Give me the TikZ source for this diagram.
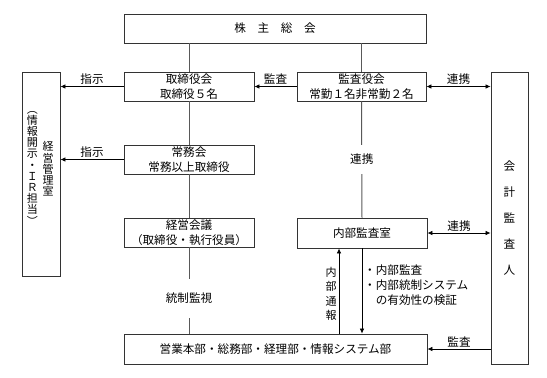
\documentclass[tikz,border=0pt]{standalone}
\usepackage{fontspec}
\newfontfamily\jp{Noto Sans CJK JP}
\usetikzlibrary{arrows.meta,positioning}
\newcommand{\tightlines}{\lineskiplimit=-20pt\relax}
\tikzset{
  box/.style={draw=black!80, line width=0.9pt, rectangle, align=center, inner sep=0pt, minimum height=29pt, fill=white},
  ln/.style={draw=black!65, line width=1pt},
  arr/.style={-{Latex[length=5pt,width=4.5pt]}, line width=0.7pt},
  darr/.style={{Latex[length=5pt,width=4.5pt]}-{Latex[length=5pt,width=4.5pt]}, line width=0.7pt},
  lbl/.style={inner sep=1.5pt, align=center},
  gap/.style={fill=white, inner xsep=2pt},
  vtxt/.style={inner sep=0pt, align=center, font=\jp\fontsize{11}{#1}\selectfont\tightlines},
}
\begin{document}
\begin{tikzpicture}[x=1pt, y=-1pt, font=\jp\fontsize{11.6}{15}\selectfont]
\useasboundingbox (0,0) rectangle (547,378);
% boxes
\node[box, minimum width=302pt] (agm) at (275,28.5) {株　主　総　会};
\node[box, minimum width=130pt] (board) at (189,86.5) {取締役会\\取締役５名};
\node[box, minimum width=129pt] (kansa) at (361.5,86.5) {監査役会\\常勤１名非常勤２名};
\node[box, minimum width=130pt] (jomu) at (189,159.5) {常務会\\常務以上取締役};
\node[box, minimum width=130pt] (kaigi) at (189,232.5) {経営会議\\（取締役・執行役員）};
\node[box, minimum width=130pt, minimum height=30pt] (naibu) at (362,233) {内部監査室};
\node[box, minimum width=303pt, minimum height=30pt] (bottom) at (275.5,349) {営業本部・総務部・経理部・情報システム部};
\node[box, minimum width=38pt, minimum height=204pt] (keiei) at (41,174) {};
\node[box, minimum width=37pt, minimum height=292pt, font=\jp\fontsize{11.6}{26.2}\selectfont] (kaikei) at (509.5,218) {会\\計\\監\\査\\人};
% vertical texts
\node[vtxt=11.2] (joho) at (32.5,168) {︵\\情\\報\\開\\示\\・\\Ｉ\\Ｒ\\担\\当\\︶};
\node[vtxt=11.2] (kanri) at (48,169) {経\\営\\管\\理\\室};
\node[vtxt=14.5] (tsuho) at (331,294) {内\\部\\通\\報};
\node[inner sep=0pt, align=left, anchor=north west] (naiyo) at (364,265) {・内部監査\\・内部統制システム\\\hspace*{1em}の有効性の検証};
% lines
\draw[ln] (agm.south -| board) -- (board.north);
\draw[ln] (agm.south -| kansa) -- (kansa.north);
\draw[ln] (board.south) -- (jomu.north);
\draw[ln] (jomu.south) -- (kaigi.north);
\draw[ln] (kaigi.south) -- node[lbl, gap, pos=0.59, inner ysep=14pt]{統制監視} (kaigi.south |- bottom.north);
\draw[ln] (kansa.south) -- node[lbl, gap, inner ysep=9pt]{連携} (naibu.north);
% arrows
\draw[arr] (board.west) -- node[lbl, above]{指示} (board.west -| keiei.east);
\draw[arr] (jomu.west) -- node[lbl, above]{指示} (jomu.west -| keiei.east);
\draw[arr] (kansa.west) -- node[lbl, above]{監査} (board.east);
\draw[darr] (kansa.east) -- node[lbl, above]{連携} (kansa.east -| kaikei.west);
\draw[darr] (naibu.east) -- node[lbl, above]{連携} (naibu.east -| kaikei.west);
\draw[arr] (bottom.east -| kaikei.west) -- node[lbl, above]{監査} (bottom.east);
\draw[arr] (naibu.south) -- (naibu.south |- bottom.north);
\draw[arr] ([xshift=-23pt]naibu.south |- bottom.north) -- ([xshift=-23pt]naibu.south);
\end{tikzpicture}
\end{document}
